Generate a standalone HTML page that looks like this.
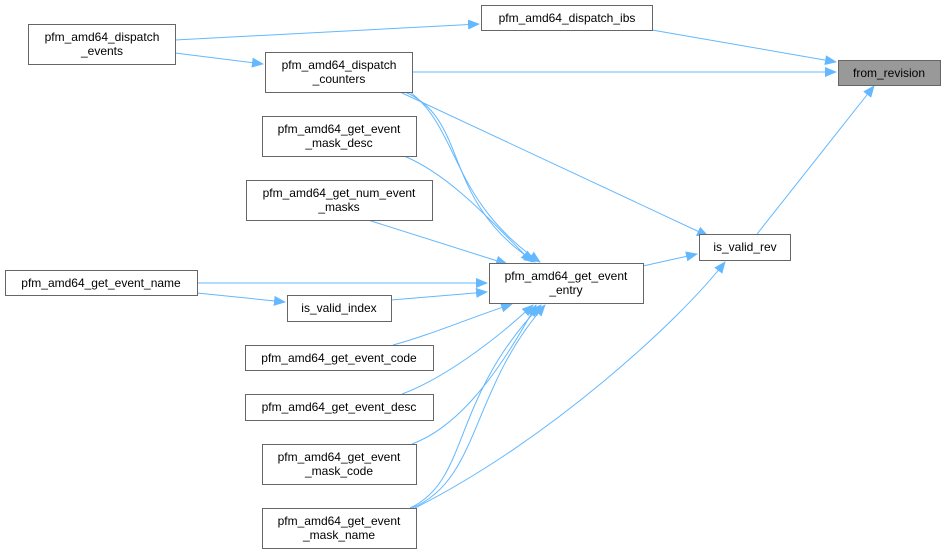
<!DOCTYPE html>
<html><head><meta charset="utf-8"><style>
html,body{margin:0;padding:0;background:#fff;}
svg{display:block;}
text{font-family:"Liberation Sans",Arial,sans-serif;font-size:12px;fill:#000;}
</style></head><body>
<svg width="944" height="554" viewBox="0 0 944 554" xmlns="http://www.w3.org/2000/svg">
<defs>
<marker id="a" markerWidth="12" markerHeight="10" refX="11" refY="5" orient="auto" markerUnits="userSpaceOnUse">
<path d="M0,0 L12,5 L0,10 Z" fill="#63b8ff"/>
</marker>
</defs>
<g fill="none" stroke="#63b8ff" stroke-width="1" marker-end="url(#a)">
<path d="M652,30 L836,62"/>
<path d="M412,72 L836,72"/>
<path d="M757,234 L874,86"/>
<path d="M175,40 L479,24"/>
<path d="M175,53 L263,64"/>
<path d="M400,92 L708,236"/>
<path d="M643,266 L697,254"/>
<path d="M405,92 C470,120 440,200 535,262"/>
<path d="M410,92 C460,130 450,200 540,262"/>
<path d="M404,156 C450,175 490,220 532,262"/>
<path d="M368,220 L507,264"/>
<path d="M197,283 L487,283"/>
<path d="M197,293 L285,302"/>
<path d="M391,300 L487,292"/>
<path d="M393,345 C430,335 470,318 512,304"/>
<path d="M402,394 C440,380 490,345 533,305"/>
<path d="M412,444 C450,430 490,390 536,305"/>
<path d="M410,508 C470,480 450,400 541,305"/>
<path d="M412,508 C480,480 470,390 545,305"/>
<path d="M415,508 C550,440 680,320 725,262"/>
</g>
<g stroke-width="1">
<rect x="838.5" y="60.5" width="102" height="25" fill="#999" stroke="#666"/>
<rect x="481.5" y="5.5" width="171" height="25" fill="#fff" stroke="#666"/>
<rect x="28.5" y="24.5" width="147" height="40" fill="#fff" stroke="#666"/>
<rect x="265.5" y="52.5" width="147" height="40" fill="#fff" stroke="#666"/>
<rect x="262.5" y="116.5" width="154" height="40" fill="#fff" stroke="#666"/>
<rect x="246.5" y="180.5" width="186" height="40" fill="#fff" stroke="#666"/>
<rect x="5.5" y="270.5" width="192" height="25" fill="#fff" stroke="#666"/>
<rect x="287.5" y="295.5" width="104" height="26" fill="#fff" stroke="#666"/>
<rect x="489.5" y="263.5" width="154" height="40" fill="#fff" stroke="#666"/>
<rect x="699.5" y="234.5" width="91" height="26" fill="#fff" stroke="#666"/>
<rect x="245.5" y="345.5" width="188" height="25" fill="#fff" stroke="#666"/>
<rect x="245.5" y="394.5" width="188" height="26" fill="#fff" stroke="#666"/>
<rect x="262.5" y="444.5" width="154" height="40" fill="#fff" stroke="#666"/>
<rect x="262.5" y="508.5" width="154" height="40" fill="#fff" stroke="#666"/>
</g>
<g text-anchor="middle">
<text x="889" y="77">from_revision</text>
<text x="567" y="22">pfm_amd64_dispatch_ibs</text>
<text x="102" y="41">pfm_amd64_dispatch</text><text x="102" y="55">_events</text>
<text x="339" y="69">pfm_amd64_dispatch</text><text x="339" y="83">_counters</text>
<text x="339" y="133">pfm_amd64_get_event</text><text x="339" y="147">_mask_desc</text>
<text x="339" y="197">pfm_amd64_get_num_event</text><text x="339" y="211">_masks</text>
<text x="101" y="287">pfm_amd64_get_event_name</text>
<text x="339" y="312">is_valid_index</text>
<text x="566" y="280">pfm_amd64_get_event</text><text x="566" y="294">_entry</text>
<text x="745" y="251">is_valid_rev</text>
<text x="339" y="362">pfm_amd64_get_event_code</text>
<text x="339" y="411">pfm_amd64_get_event_desc</text>
<text x="339" y="461">pfm_amd64_get_event</text><text x="339" y="475">_mask_code</text>
<text x="339" y="525">pfm_amd64_get_event</text><text x="339" y="539">_mask_name</text>
</g>
</svg>
</body></html>
